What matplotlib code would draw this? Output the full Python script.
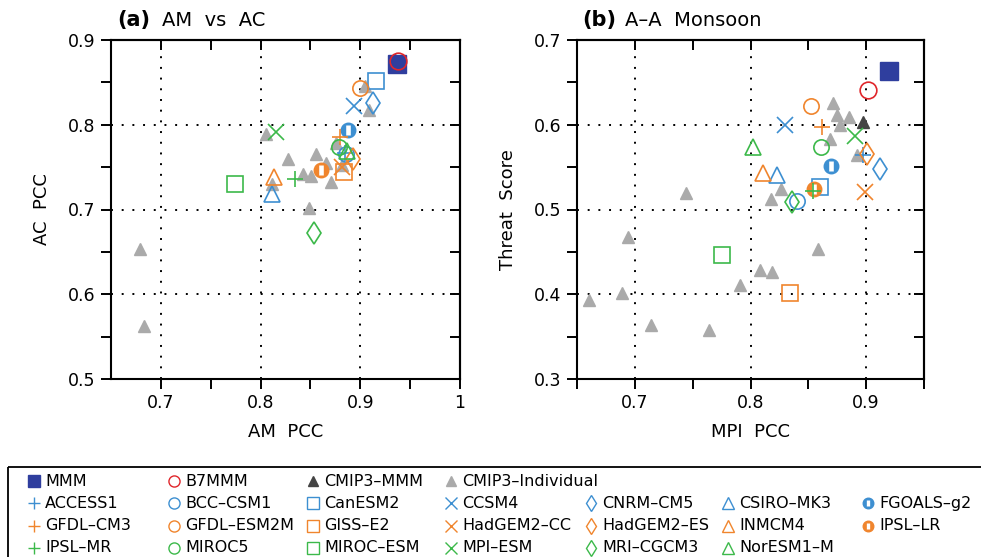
import matplotlib
matplotlib.use("Agg")
import matplotlib.pyplot as plt
from matplotlib.patches import Rectangle

plt.rcParams['font.family'] = ['DejaVu Sans']

BLUE = '#3d8fd1'
ORANGE = '#f0852d'
GREEN = '#3cb94a'
RED = '#e0262b'
NAVY = '#2f3e9e'
GRAY = '#aaaaaa'
DARK = '#444444'

# CMIP5 models: name, colour, marker
models = ['ACCESS1', 'BCC-CSM1', 'CanESM2', 'CCSM4', 'CNRM-CM5', 'CSIRO-MK3', 'FGOALS-g2',
          'GFDL-CM3', 'GFDL-ESM2M', 'GISS-E2', 'HadGEM2-CC', 'HadGEM2-ES', 'INMCM4', 'IPSL-LR',
          'IPSL-MR', 'MIROC5', 'MIROC-ESM', 'MPI-ESM', 'MRI-CGCM3', 'NorESM1-M']

# panel (a): AM PCC, AC PCC
am_pcc = [0.885, 0.886, 0.916, 0.894, 0.913, 0.811, 0.888,
          0.880, 0.900, 0.884, 0.882, 0.893, 0.813, 0.861,
          0.835, 0.879, 0.774, 0.815, 0.854, 0.887]
ac_pcc = [0.767, 0.765, 0.852, 0.822, 0.826, 0.718, 0.794,
          0.786, 0.843, 0.744, 0.750, 0.760, 0.738, 0.747,
          0.736, 0.774, 0.730, 0.791, 0.672, 0.769]

# panel (b): MPI PCC, Threat Score
mpi_pcc = [0.897, 0.840, 0.860, 0.830, 0.912, 0.823, 0.870,
           0.862, 0.852, 0.834, 0.899, 0.901, 0.811, 0.855,
           0.854, 0.861, 0.775, 0.890, 0.836, 0.802]
threat = [0.564, 0.510, 0.527, 0.600, 0.548, 0.541, 0.551,
          0.597, 0.622, 0.402, 0.521, 0.565, 0.543, 0.524,
          0.522, 0.574, 0.446, 0.587, 0.509, 0.574]

# ensemble means: MMM, B7MMM, CMIP3-MMM
mmm_a = (0.937, 0.872)
b7mmm_a = (0.938, 0.875)
cmip3mmm_a = (0.935, 0.876)
mmm_b = (0.920, 0.6635)
b7mmm_b = (0.902, 0.641)
cmip3mmm_b = (0.897, 0.603)

# CMIP3 individual models
cmip3_am = [0.905, 0.909, 0.856, 0.866, 0.871, 0.851, 0.843, 0.828, 0.805, 0.849,
            0.679, 0.683, 0.811, 0.876, 0.882]
cmip3_ac = [0.846, 0.817, 0.766, 0.755, 0.732, 0.739, 0.742, 0.759, 0.789, 0.702,
            0.653, 0.563, 0.730, 0.778, 0.752]
cmip3_mpi = [0.871, 0.875, 0.885, 0.877, 0.869, 0.892, 0.826, 0.818, 0.744, 0.694,
             0.689, 0.660, 0.714, 0.764, 0.791, 0.808, 0.819, 0.858]
cmip3_ts = [0.626, 0.611, 0.609, 0.600, 0.583, 0.564, 0.524, 0.512, 0.520, 0.467,
            0.401, 0.393, 0.364, 0.358, 0.411, 0.429, 0.426, 0.453]

colors = [BLUE] * 7 + [ORANGE] * 7 + [GREEN] * 6
shapes = (['+', 'o', 's', 'x', 'D', '^', 'half'] * 3)[:20]

MS = 11


def draw_model(ax, x, y, c, m, ms=MS, lw=1.2):
    if m == 'half':
        ax.plot(x, y, marker='o', ms=ms * 0.95, color=c, mec=c, ls='none')
        ax.plot(x, y, marker='|', ms=ms * 0.62, color='white', mew=ms * 0.3, ls='none')
    elif m == 'D':
        ax.plot(x, y, marker='d', ms=ms * 1.05, mfc='none', mec=c, mew=lw, ls='none')
    elif m in ('+', 'x'):
        ax.plot(x, y, marker=m, ms=ms * 1.05, color=c, mew=lw, ls='none')
    else:
        ax.plot(x, y, marker=m, ms=ms, mfc='none', mec=c, mew=lw, ls='none')


def style_axes(ax, xlim, ylim, xmaj, xmin, ymaj, ymin, xgrid, ygrid):
    ax.set_xlim(*xlim)
    ax.set_ylim(*ylim)
    for g in xgrid:
        ax.axvline(g, color='black', lw=1.4, ls=(0, (1, 4.5)), zorder=0)
    for g in ygrid:
        ax.axhline(g, color='black', lw=1.4, ls=(0, (1, 4.5)), zorder=0)
    ax.set_xticks(xmaj)
    ax.set_xticks(xmin, minor=True)
    ax.set_yticks(ymaj)
    ax.set_yticks(ymin, minor=True)
    for s in ax.spines.values():
        s.set_linewidth(1.5)
    ax.tick_params(which='both', direction='out', length=7, width=1.4,
                   labelsize=12.5, pad=4)
    # NCL-like: ticks on top/right point inwards
    sec_x = ax.secondary_xaxis('top')
    sec_x.set_xticks(xmaj)
    sec_x.set_xticks(xmin, minor=True)
    sec_x.tick_params(which='both', direction='in', length=7, width=1.4, labeltop=False)
    sec_x.spines['top'].set_linewidth(1.5)
    sec_y = ax.secondary_yaxis('right')
    sec_y.set_yticks(ymaj)
    sec_y.set_yticks(ymin, minor=True)
    sec_y.tick_params(which='both', direction='in', length=7, width=1.4, labelright=False)
    sec_y.spines['right'].set_linewidth(1.5)


fig = plt.figure(figsize=(9.81, 5.57), dpi=100)

# ---- panel (a)
ax1 = fig.add_axes([111 / 981, 1 - 379 / 557, 349 / 981, 339 / 557])
style_axes(ax1, (0.65, 1.0), (0.5, 0.9),
           [0.7, 0.8, 0.9, 1.0], [0.75, 0.85, 0.95],
           [0.5, 0.6, 0.7, 0.8, 0.9], [0.55, 0.65, 0.75, 0.85],
           [0.7, 0.8, 0.9], [0.6, 0.7, 0.8])
ax1.set_xticklabels(['0.7', '0.8', '0.9', '1'])
ax1.plot(cmip3_am, cmip3_ac, marker='^', ms=9, color=GRAY, ls='none')
ax1.plot(*cmip3mmm_a, marker='^', ms=9, color=DARK, ls='none')
ax1.plot(*mmm_a, marker='s', ms=13, color=NAVY, ls='none')
ax1.plot(*b7mmm_a, marker='o', ms=12, mfc='none', mec=RED, mew=1.2, ls='none')
for i in range(len(models)):
    draw_model(ax1, am_pcc[i], ac_pcc[i], colors[i], shapes[i])
ax1.set_xlabel('AM  PCC', fontsize=13, labelpad=8)
ax1.set_ylabel('AC  PCC', fontsize=13, labelpad=12)
fig.text(117 / 981, 1 - 20 / 557, '(a)', fontsize=15, fontweight='bold', va='center')
fig.text(162 / 981, 1 - 21 / 557, 'AM  vs  AC', fontsize=14, va='center')

# ---- panel (b)
ax2 = fig.add_axes([577 / 981, 1 - 379 / 557, 347 / 981, 339 / 557])
style_axes(ax2, (0.65, 0.95), (0.3, 0.7),
           [0.7, 0.8, 0.9], [0.65, 0.75, 0.85, 0.95],
           [0.3, 0.4, 0.5, 0.6, 0.7], [0.35, 0.45, 0.55, 0.65],
           [0.7, 0.8, 0.9], [0.4, 0.5, 0.6])
ax2.plot(cmip3_mpi, cmip3_ts, marker='^', ms=9, color=GRAY, ls='none')
ax2.plot(*cmip3mmm_b, marker='^', ms=9, color=DARK, ls='none')
ax2.plot(*mmm_b, marker='s', ms=13, color=NAVY, ls='none')
ax2.plot(*b7mmm_b, marker='o', ms=12, mfc='none', mec=RED, mew=1.2, ls='none')
for i in range(len(models)):
    draw_model(ax2, mpi_pcc[i], threat[i], colors[i], shapes[i])
ax2.set_xlabel('MPI  PCC', fontsize=13, labelpad=8)
ax2.set_ylabel('Threat  Score', fontsize=13, labelpad=12)
fig.text(582 / 981, 1 - 20 / 557, '(b)', fontsize=15, fontweight='bold', va='center')
fig.text(625 / 981, 1 - 21 / 557, 'A\u2013A  Monsoon', fontsize=14, va='center')

# ---- legend drawn in pixel space
lg = fig.add_axes([0, 0, 1, 93 / 557])
lg.set_xlim(0, 981)
lg.set_ylim(557, 464)
lg.axis('off')
lg.add_patch(Rectangle((8, 467), 1000, 120, fill=False, lw=1.3, ec='black', clip_on=True))
col_x = [34, 174, 313, 451, 591, 728, 868]
row_y = [481.5, 503.5, 526, 548]
LMS = 8

lg.plot(col_x[0], row_y[0], marker='s', ms=LMS + 1, color=NAVY, ls='none')
lg.plot(col_x[1], row_y[0], marker='o', ms=LMS, mfc='none', mec=RED, mew=1, ls='none')
lg.plot(col_x[2], row_y[0], marker='^', ms=LMS - 1, color=DARK, ls='none')
lg.plot(col_x[3], row_y[0], marker='^', ms=LMS - 1, color=GRAY, ls='none')
for j, name in enumerate(['MMM', 'B7MMM', 'CMIP3\u2013MMM', 'CMIP3\u2013Individual']):
    lg.text(col_x[j] + 11, row_y[0], name, fontsize=11.5, va='center')

for i, name in enumerate(models):
    r = 1 + i // 7
    c = i % 7
    draw_model(lg, col_x[c], row_y[r], colors[i], shapes[i], ms=LMS, lw=1.0)
    lg.text(col_x[c] + 11, row_y[r], name.replace('-', '\u2013'), fontsize=11.5, va='center')

fig.savefig('out.png', dpi=100)
